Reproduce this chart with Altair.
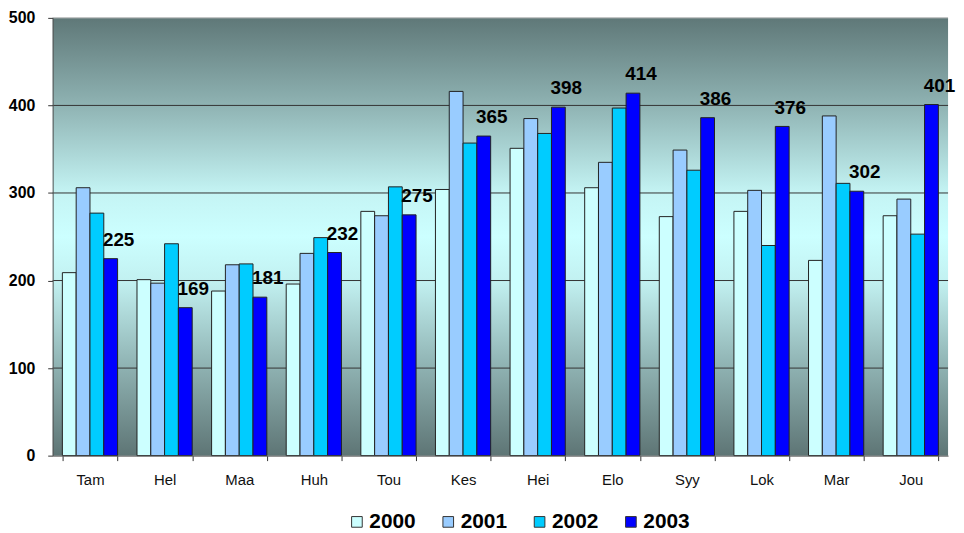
import altair as alt
import pandas as pd

months = ["Tam", "Hel", "Maa", "Huh", "Tou", "Kes", "Hei", "Elo", "Syy", "Lok", "Mar", "Jou"]
years = ["2000", "2001", "2002", "2003"]
v2000 = [209, 201, 188, 196, 279, 304, 351, 306, 273, 279, 223, 274]
v2001 = [306, 197, 218, 231, 274, 416, 385, 335, 349, 303, 388, 293]
v2002 = [277, 242, 219, 249, 307, 357, 368, 397, 326, 240, 311, 253]
v2003 = [225, 169, 181, 232, 275, 365, 398, 414, 386, 376, 302, 401]
colors = ["#ccffff", "#99ccff", "#00ccff", "#0000ff"]
y_ticks = [0, 100, 200, 300, 400, 500]
grid_vals = [100, 200, 300, 400]

rows = []
for yr, vals in zip(years, [v2000, v2001, v2002, v2003]):
    for m, v in zip(months, vals):
        rows.append({"month": m, "year": yr, "value": v})
df = pd.DataFrame(rows)

FONT = "Liberation Sans"
W, H = 902, 441

xenc = alt.X("month:N", sort=months,
             scale=alt.Scale(paddingInner=0.26, paddingOuter=0.13),
             axis=alt.Axis(title=None, labelAngle=0, tickBand="extent", tickSize=5,
                           tickColor="#333333", domainColor="#555555", labelFontSize=15,
                           labelFont=FONT, labelColor="#111111", labelPadding=12, zindex=1))
yscale = alt.Scale(domain=[0, 500], nice=False)

gradient = alt.Gradient(
    gradient="linear", x1=0, y1=0, x2=0, y2=1,
    stops=[
        alt.GradientStop(color="#5f7878", offset=0),
        alt.GradientStop(color="#8fb3b3", offset=0.2),
        alt.GradientStop(color="#c4f4f4", offset=0.4),
        alt.GradientStop(color="#ccffff", offset=0.5),
        alt.GradientStop(color="#c2f1f1", offset=0.6),
        alt.GradientStop(color="#8eb1b1", offset=0.8),
        alt.GradientStop(color="#5e7575", offset=1),
    ],
)

bg = alt.Chart(alt.Data(values=[{}])).mark_rect(fill=gradient).encode(
    y=alt.datum(0, scale=yscale),
    y2=alt.datum(500),
)

grid = alt.Chart(pd.DataFrame({"v": grid_vals})).mark_rule(color="#333333", strokeWidth=1).encode(
    y=alt.Y("v:Q", scale=yscale)
)
topline = alt.Chart(pd.DataFrame({"v": [500]})).mark_rule(color="#b8b8b8", strokeWidth=1).encode(
    y=alt.Y("v:Q", scale=yscale)
)

bars = alt.Chart(df).mark_bar(stroke="#222222", strokeWidth=1).encode(
    x=xenc,
    xOffset=alt.XOffset("year:N", sort=years),
    y=alt.Y("value:Q", scale=yscale,
            axis=alt.Axis(title=None, values=y_ticks, grid=False, tickSize=5, tickColor="#333333",
                          domainColor="#555555", labelFontSize=16, labelFontWeight="bold",
                          labelFont=FONT, labelColor="#000000", labelPadding=13, zindex=1)),
    color=alt.Color("year:N", sort=years,
                    scale=alt.Scale(domain=years, range=colors),
                    legend=alt.Legend(orient="none", legendX=296, legendY=497,
                                      direction="horizontal", title=None, symbolType="square",
                                      symbolSize=115, symbolStrokeColor="#333333",
                                      symbolStrokeWidth=1, labelFontSize=21,
                                      labelFontWeight="bold", labelFont=FONT,
                                      labelColor="#000000", columnPadding=22, labelOffset=2)),
)

labels = alt.Chart(df).transform_filter(alt.datum.year == "2003").mark_text(
    dx=8, dy=-9, baseline="bottom", align="center", fontSize=19, fontWeight="bold",
    font=FONT, color="#000000"
).encode(
    x=alt.X("month:N", sort=months),
    xOffset=alt.XOffset("year:N", sort=years),
    y=alt.Y("value:Q", scale=yscale),
    text=alt.Text("value:Q"),
)

chart = alt.layer(bg, grid, topline, bars, labels).properties(
    width=W, height=H, padding={"left": 0, "top": 0, "right": 0, "bottom": 0}
).configure_view(stroke=None)

chart.save("out.html", embed_options={"renderer": "svg", "actions": False})
